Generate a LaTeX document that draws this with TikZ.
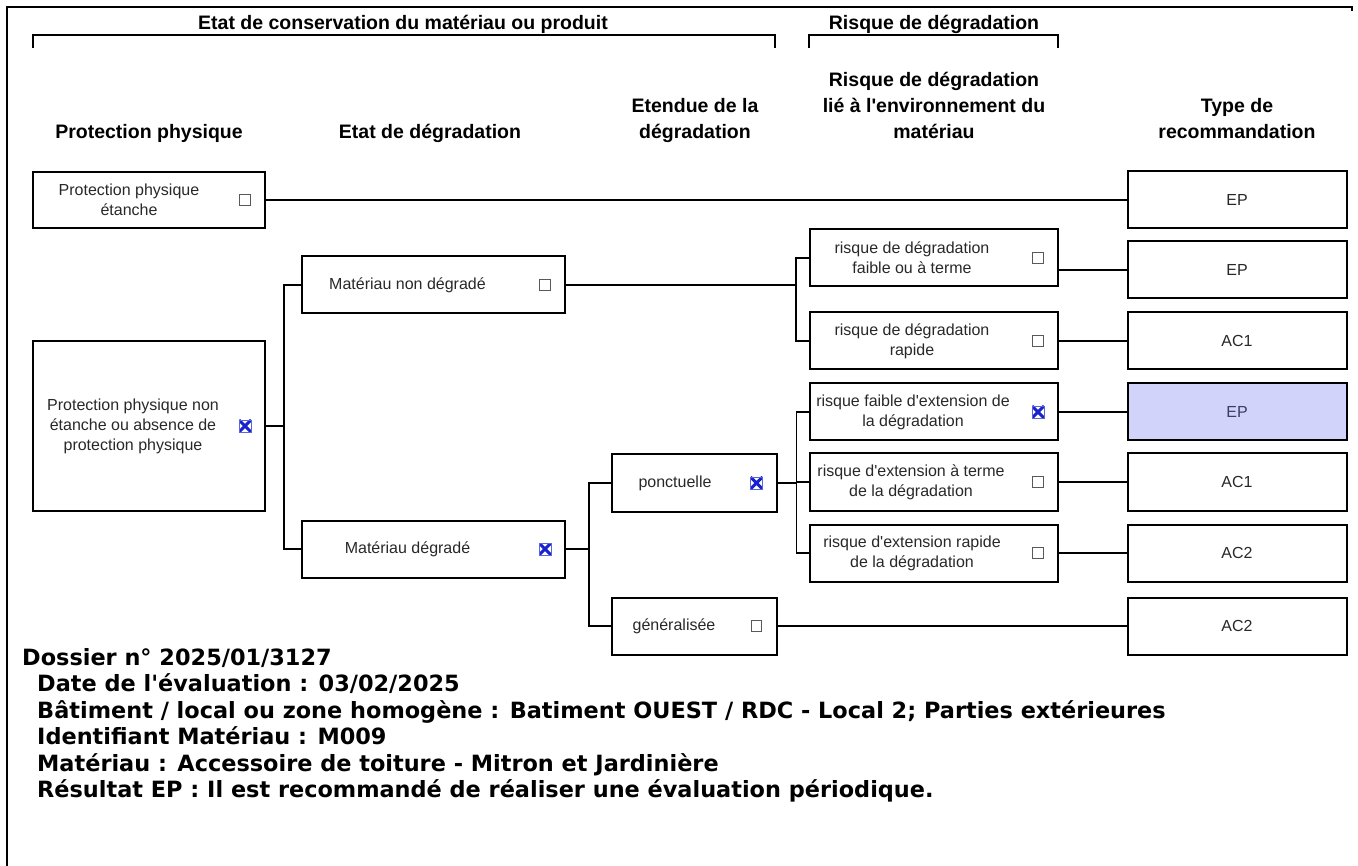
\documentclass[tikz,border=0pt]{standalone}
\usepackage{fontspec}
\setmainfont{Liberation Sans}
\newfontfamily\verdana{DejaVu Sans}

\definecolor{epfill}{RGB}{209,211,250}
\definecolor{eptext}{RGB}{60,60,100}
\definecolor{choiceink}{RGB}{40,40,40}
\definecolor{crossblue}{RGB}{25,35,205}

\tikzstyle{group} = [font=\fontsize{19.5}{24}\selectfont\bfseries, inner sep=0pt, anchor=base]
\tikzstyle{colhead} = [font=\fontsize{19.5}{26}\selectfont\bfseries, align=center, inner sep=0pt, anchor=base]
\tikzstyle{frame} = [draw, line width=2.2pt]
\tikzstyle{choice} = [draw, line width=2pt, inner sep=0pt]
\tikzstyle{choicetext} = [font=\fontsize{16}{20}\selectfont, text=choiceink, align=center, inner sep=0pt]
\tikzstyle{reco} = [draw, line width=2pt, minimum width=219pt, minimum height=57pt, font=\fontsize{16}{18}\selectfont]
\tikzstyle{link} = [draw, line width=1.8pt]
\tikzstyle{elbow} = [to path={|- (\tikztotarget)}]
\tikzstyle{tick} = [draw=black!65, line width=1.4pt, minimum size=10.5pt, inner sep=0pt]
\tikzstyle{ticked} = [draw=crossblue!70, line width=0.8pt, minimum size=12pt, inner sep=0pt,
  path picture={\draw[crossblue, line width=3pt]
    (path picture bounding box.north west) -- (path picture bounding box.south east)
    (path picture bounding box.south west) -- (path picture bounding box.north east);}]
\tikzstyle{summary} = [font=\verdana\bfseries\fontsize{22.4}{26}\selectfont, anchor=base west, inner sep=0pt]

\begin{document}
\begin{tikzpicture}[x=1pt,y=-1pt]
  \useasboundingbox (0,0) rectangle (1358,866);
  % frame
  \draw[frame] (7,866) -- (7,7) -- (1352,7) -- (1352,11);

  % group headers and brackets
  \node[group] (gcons) at (403,30) {Etat de conservation du matériau ou produit};
  \node[group] (grisk) at (934,30) {Risque de dégradation};
  \draw[frame] (33,48) -- (33,35) -- (775,35) -- (775,48);
  \draw[frame] (809,48) -- (809,35) -- (1058,35) -- (1058,48);

  % column headers
  \foreach \nodename/\x/\txt in {
    hprot/149/{Protection physique},
    hetat/430/{Etat de dégradation},
    hext/695/{Etendue de la\\dégradation},
    henv/934/{Risque de dégradation\\lié à l\textquotesingle environnement du\\matériau},
    hreco/1237/{Type de\\recommandation}}
  {
    \node[colhead] (\nodename) at (\x,139) {\txt};
  };

  % choice boxes
  \foreach \nodename/\x/\y/\w/\h/\shift/\state/\txt in {
    pp1/149/200/232/56/-20/tick/{Protection physique\\étanche},
    pp2/149/426/232/169/-16/ticked/{Protection physique non\\étanche ou absence de\\protection physique},
    nd/433.5/285/263/57/-26/tick/{Matériau non dégradé},
    deg/433.5/549/263/57/-26/ticked/{Matériau dégradé},
    ponc/694/483/165/57/-19/ticked/{ponctuelle},
    gen/694/626/165/57/-20/tick/{généralisée},
    r1/934/258/248/57/-22/tick/{risque de dégradation\\faible ou à terme},
    r2/934/341/248/57/-22/tick/{risque de dégradation\\rapide},
    r3/934/412/248/57/-21/ticked/{risque faible d\textquotesingle extension de\\la dégradation},
    r4/934/482/248/57/-23/tick/{risque d\textquotesingle extension à terme\\de la dégradation},
    r5/934/553/248/57/-22/tick/{risque d\textquotesingle extension rapide\\de la dégradation}}
  {
    \node[choice, minimum width=\w pt, minimum height=\h pt] (\nodename) at (\x,\y) {};
    \node[choicetext] (\nodename-t) at ([xshift=\shift pt]\nodename.center) {\txt};
    \node[\state] (\nodename-c) at ([xshift=-21pt]\nodename.east) {};
  };

  % recommendation boxes
  \foreach \nodename/\y/\txt/\fillc/\inkc in {
    t1/200/EP/white/choiceink, t2/270/EP/white/choiceink, t3/341/AC1/white/choiceink,
    t4/412/EP/epfill/eptext, t5/482/AC1/white/choiceink, t6/553/AC2/white/choiceink,
    t7/626/AC2/white/choiceink}
  {
    \node[reco, fill=\fillc, text=\inkc] (\nodename) at (1237,\y) {\txt};
  };

  % junctions
  \coordinate (j1) at ([xshift=18pt]pp2.east);
  \coordinate (j2) at ([xshift=23pt]deg.east);
  \coordinate (j3) at ([xshift=230pt]nd.east);
  \coordinate (j4) at ([xshift=19pt]ponc.east);

  %edges
  \path
  \foreach \startnode/\endnode in {pp2/j1, deg/j2, nd/j3, ponc/j4}
  {
    (\startnode.east) edge[link] (\endnode)
  };
  \path
  \foreach \startnode/\endnode in {j1/nd, j1/deg, j2/ponc, j2/gen, j3/r1, j3/r2, j4/r3, j4/r4, j4/r5}
  {
    (\startnode) edge[link, elbow] (\endnode.west)
  };
  \path
  \foreach \startnode/\endnode in {pp1/t1, r1/t2, r2/t3, r3/t4, r4/t5, r5/t6, gen/t7}
  {
    (\endnode.west -| \startnode.east) edge[link] (\endnode.west)
  };

  % summary
  \foreach \nodename/\x/\y/\txt in {
    sdoss/22/665/{Dossier n° 2025/01/3127},
    sdate/37/691.5/{Date de l\textquotesingle évaluation : 03/02/2025},
    sbat/37/718/{Bâtiment / local ou zone homogène : Batiment OUEST / RDC - Local 2; Parties extérieures},
    sid/37/744.5/{Identifiant Matériau : M009},
    smat/37/771/{Matériau : Accessoire de toiture - Mitron et Jardinière},
    sres/37/797.5/{Résultat EP : Il est recommandé de réaliser une évaluation périodique.}}
  {
    \node[summary] (\nodename) at (\x,\y) {\txt};
  };
\end{tikzpicture}
\end{document}
